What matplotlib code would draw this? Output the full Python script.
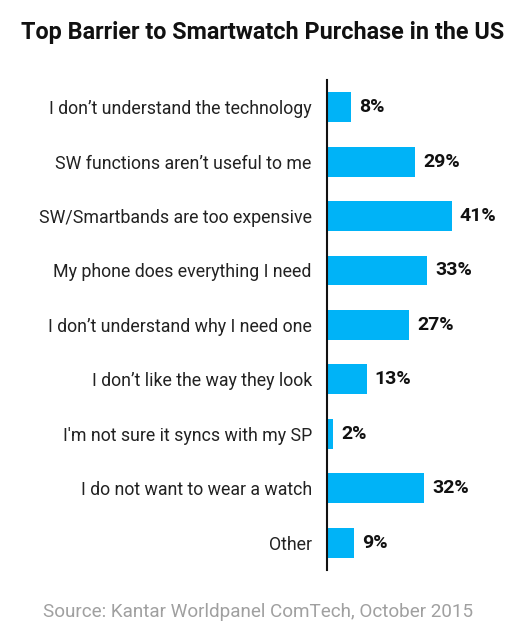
import matplotlib
matplotlib.use("Agg")
import matplotlib.pyplot as plt

plt.rcParams['font.family'] = ['Roboto', 'DejaVu Sans']

# Survey answers, top to bottom as shown
reasons = [
    "I don\u2019t understand the technology",
    "SW functions aren\u2019t useful to me",
    "SW/Smartbands are too expensive",
    "My phone does everything I need",
    "I don\u2019t understand why I need one",
    "I don\u2019t like the way they look",
    "I'm not sure it syncs with my SP",
    "I do not want to wear a watch",
    "Other",
]
shares = [8, 29, 41, 33, 27, 13, 2, 32, 9]

bar_color = '#00b3f7'

fig = plt.figure(figsize=(5.25, 6.3), dpi=100)
ax = fig.add_axes([0.623, 0.0952, 0.33, 0.778])

ypos = list(range(len(reasons)))
ax.barh(ypos, shares, height=0.55, color=bar_color)

# value labels just past the end of each bar
for y, v in zip(ypos, shares):
    ax.text(v + 2.6, y, f"{v}%", va='center', ha='left',
            fontsize=14, fontweight='bold', color='#111111')

ax.set_yticks(ypos)
ax.set_yticklabels(reasons, fontsize=12.8, color='#222222')
ax.tick_params(axis='y', length=0, pad=11)
ax.set_ylim(8.5, -0.5)
ax.set_xlim(0, 57)
ax.set_xticks([])

for side in ['top', 'right', 'bottom']:
    ax.spines[side].set_visible(False)
ax.spines['left'].set_linewidth(1.5)
ax.spines['left'].set_color('#111111')

fig.text(0.5, 1 - 33 / 630, "Top Barrier to Smartwatch Purchase in the US",
         ha='center', va='center', fontsize=16.8, fontweight='bold', color='#111111')
fig.text(0.491, 1 - 612 / 630, "Source: Kantar Worldpanel ComTech, October 2015",
         ha='center', va='center', fontsize=13.6, color='#a0a0a0')

fig.savefig('out.png', dpi=100)
